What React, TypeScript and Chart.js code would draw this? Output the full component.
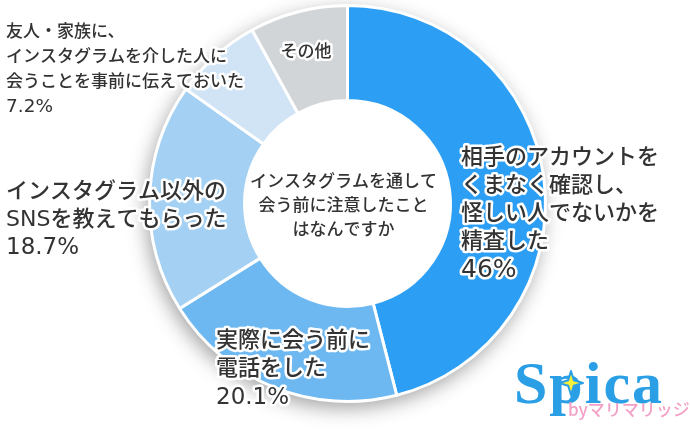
import React, { useEffect, useRef } from "react";
import { Chart, registerables } from "chart.js";

Chart.register(...registerables);

const CATEGORIES: string[][] = [
  ["相手のアカウントを", "くまなく確認し、", "怪しい人でないかを", "精査した"],
  ["実際に会う前に", "電話をした"],
  ["インスタグラム以外の", "SNSを教えてもらった"],
  ["友人・家族に、", "インスタグラムを介した人に", "会うことを事前に伝えておいた"],
  ["その他"],
];
const VALUES: number[] = [46, 20.1, 18.7, 7.2, 8.0];
const VALUE_LABELS: string[] = ["46%", "20.1%", "18.7%", "7.2%", ""];
const CENTER_TITLE: string[] = ["インスタグラムを通して", "会う前に注意したこと", "はなんですか"];
const COLORS: string[] = ["#2c9ff5", "#6db8f1", "#a4d1f3", "#d0e4f6", "#d2d5d8"];

// label layout (styling, not data)
const LABEL_LAYOUT = [
  { x: 461, y: 158, lh: 28, size: 22, pct: 25, align: "left" },
  { x: 216, y: 341, lh: 28.5, size: 22, pct: 23, align: "left" },
  { x: 6, y: 192, lh: 28, size: 22, pct: 23, align: "left" },
  { x: 6, y: 33, lh: 24.7, size: 17, pct: 18.5, align: "left" },
  { x: 306, y: 53, lh: 24, size: 17, pct: 17, align: "center" },
];

const FONT = '"DejaVu Sans", "Noto Sans CJK JP", sans-serif';
const CJK = '"Noto Sans CJK JP", sans-serif';

const shadowPlugin = {
  id: "ringShadow",
  beforeDatasetsDraw(chart: any) {
    const meta = chart.getDatasetMeta(0);
    const arc = meta.data[0];
    if (!arc) return;
    const { x, y, outerRadius } = arc.getProps(["x", "y", "outerRadius"], true);
    const ctx = chart.ctx;
    ctx.save();
    ctx.shadowColor = "rgba(0,0,0,0.38)";
    ctx.shadowBlur = 20;
    ctx.shadowOffsetX = -3;
    ctx.shadowOffsetY = 6;
    ctx.fillStyle = "#ffffff";
    ctx.beginPath();
    ctx.arc(x, y, outerRadius, 0, Math.PI * 2);
    ctx.fill();
    ctx.restore();
  },
};

const labelPlugin = {
  id: "labels",
  afterDraw(chart: any) {
    const ctx = chart.ctx;
    const meta = chart.getDatasetMeta(0);
    const arc = meta.data[0];
    ctx.save();
    ctx.textBaseline = "middle";
    ctx.lineJoin = "round";
    CATEGORIES.forEach((lines, i) => {
      const L = LABEL_LAYOUT[i];
      const all = VALUE_LABELS[i] ? [...lines, VALUE_LABELS[i]] : lines;
      ctx.textAlign = L.align;
      all.forEach((t, j) => {
        const isPct = j === lines.length;
        ctx.font = isPct ? `${L.pct}px "DejaVu Sans", sans-serif` : `500 ${L.size}px ${FONT}`;
        const yy = L.y + j * L.lh;
        ctx.strokeStyle = "#ffffff";
        ctx.lineWidth = 5;
        ctx.strokeText(t, L.x, yy);
        ctx.fillStyle = "#333333";
        ctx.fillText(t, L.x, yy);
      });
    });
    // center title
    if (arc) {
      const { x, y } = arc.getProps(["x", "y"], true);
      ctx.font = `500 17px ${CJK}`;
      ctx.textAlign = "center";
      ctx.fillStyle = "#333333";
      CENTER_TITLE.forEach((t, j) => {
        ctx.fillText(t, x - 4, y - 23 + j * 24);
      });
    }
    // logo
    ctx.textAlign = "left";
    ctx.textBaseline = "alphabetic";
    ctx.font = `bold 60px "Liberation Serif", "DejaVu Serif", serif`;
    (ctx as any).letterSpacing = "2px";
    ctx.fillStyle = "#2a9fe6";
    ctx.fillText("Spica", 514, 403);
    (ctx as any).letterSpacing = "0px";
    // star
    const sx = 571, sy = 383, r = 12, ri = 4;
    ctx.beginPath();
    for (let k = 0; k < 8; k++) {
      const a = (k * Math.PI) / 4 - Math.PI / 2;
      const rr = k % 2 === 0 ? r : ri;
      const px = sx + rr * Math.cos(a);
      const py = sy + rr * Math.sin(a);
      if (k === 0) ctx.moveTo(px, py);
      else ctx.lineTo(px, py);
    }
    ctx.closePath();
    ctx.fillStyle = "#f7f03c";
    ctx.fill();
    ctx.strokeStyle = "#2a9fe6";
    ctx.lineWidth = 2;
    ctx.stroke();
    ctx.font = `500 17px ${CJK}`;
    ctx.fillStyle = "#f2a0c6";
    ctx.textBaseline = "middle";
    ctx.fillText("byマリマリッジ", 568, 410);
    ctx.restore();
  },
};

export default function App() {
  const ref = useRef<HTMLCanvasElement>(null);
  useEffect(() => {
    if (!ref.current) return;
    const chart = new Chart(ref.current, {
      type: "doughnut",
      data: {
        labels: CATEGORIES.map((c) => c.join("")),
        datasets: [
          {
            data: VALUES,
            backgroundColor: COLORS,
            borderColor: "#ffffff",
            borderWidth: 3,
          },
        ],
      },
      options: {
        responsive: false,
        animation: false,
        devicePixelRatio: 1,
        cutout: "52%",
        layout: { padding: { left: 148, top: 4, right: 143, bottom: 27 } },
        plugins: { legend: { display: false }, tooltip: { enabled: false } },
      },
      plugins: [shadowPlugin, labelPlugin],
    } as any);
    return () => chart.destroy();
  }, []);
  return (
    <div style={{ position: "fixed", left: 0, top: 0, width: 690, height: 430, background: "#fff" }}>
      <canvas ref={ref} width={690} height={430} style={{ width: 690, height: 430 }} />
    </div>
  );
}
